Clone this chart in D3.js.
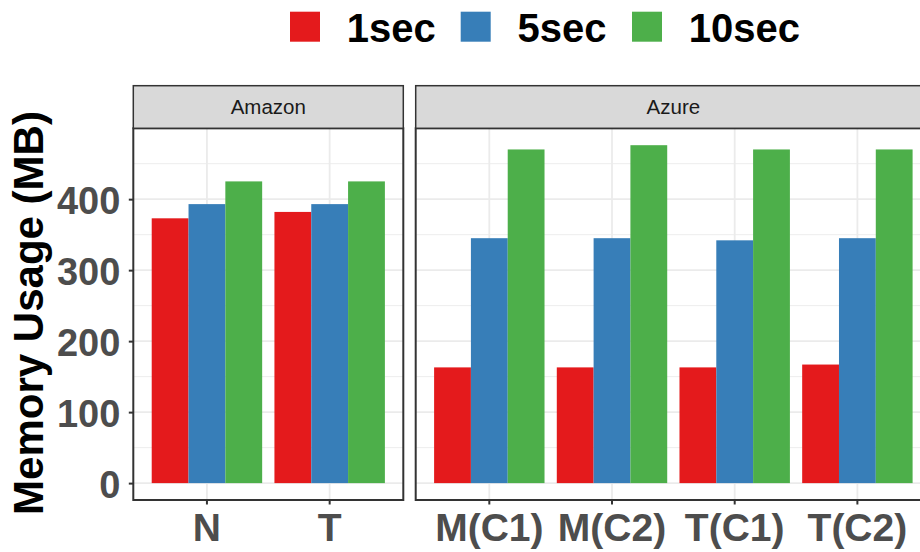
<!DOCTYPE html>
<html>
<head>
<meta charset="utf-8">
<script src="https://cdn.jsdelivr.net/npm/d3@7"></script>
<style>
  body { margin: 0; background: #fff; }
  svg { display: block; font-family: "Liberation Sans", Arial, sans-serif; }
</style>
</head>
<body>
<div id="chart"></div>
<script>
// data
const series = ["1sec", "5sec", "10sec"];
const colors = ["#E41A1C", "#377EB8", "#4DAF4A"];

const amazonCats = ["N", "T"];
const amazon1 = [373, 382];
const amazon5 = [393, 393];
const amazon10 = [425, 425];

const azureCats = ["M(C1)", "M(C2)", "T(C1)", "T(C2)"];
const azure1 = [163, 163, 163, 167];
const azure5 = [345, 345, 342, 345];
const azure10 = [470, 476, 470, 470];

const yTicks = [0, 100, 200, 300, 400];
const yMinor = [50, 150, 250, 350, 450];

const width = 920, height = 552;
const panelTop = 128.3, panelBottom = 500, stripTop = 85.7;

const svg = d3.select("#chart").append("svg")
    .attr("width", width)
    .attr("height", height);

const panels = [
  {name: "Amazon", cats: amazonCats, vals: [amazon1, amazon5, amazon10], left: 133.3, right: 403.3},
  {name: "Azure", cats: azureCats, vals: [azure1, azure5, azure10], left: 415.7, right: 931}
];

const yMax = d3.max([...amazon1, ...amazon5, ...amazon10, ...azure1, ...azure5, ...azure10]);
const y = d3.scaleLinear()
    .domain([-yMax * 0.05, yMax * 1.05])
    .range([panelBottom, panelTop]);

// offsets of the three bars inside one category (in category units)
const sub = d3.scaleBand().domain(series).range([-0.45, 0.45]).padding(0);

panels.forEach(p => {
  const n = p.cats.length;
  const x = d3.scaleLinear().domain([0.4, n + 0.6]).range([p.left, p.right]);
  const unit = x(1) - x(0);
  const g = svg.append("g");

  // panel background + grid
  g.append("rect").attr("x", p.left).attr("y", panelTop)
    .attr("width", p.right - p.left).attr("height", panelBottom - panelTop)
    .attr("fill", "#fff");

  g.selectAll(".minor").data(yMinor).join("line")
    .attr("x1", p.left).attr("x2", p.right)
    .attr("y1", d => y(d)).attr("y2", d => y(d))
    .attr("stroke", "#EBEBEB").attr("stroke-width", 0.9);

  g.selectAll(".major").data(yTicks).join("line")
    .attr("x1", p.left).attr("x2", p.right)
    .attr("y1", d => y(d)).attr("y2", d => y(d))
    .attr("stroke", "#EBEBEB").attr("stroke-width", 1.8);

  g.selectAll(".vgrid").data(p.cats).join("line")
    .attr("x1", (d, i) => x(i + 1)).attr("x2", (d, i) => x(i + 1))
    .attr("y1", panelTop).attr("y2", panelBottom)
    .attr("stroke", "#EBEBEB").attr("stroke-width", 1.8);

  // bars
  series.forEach((s, si) => {
    g.selectAll(".bar" + si).data(p.vals[si]).join("rect")
      .attr("x", (d, i) => x(i + 1) + sub(s) * unit)
      .attr("width", sub.bandwidth() * unit)
      .attr("y", d => y(d))
      .attr("height", d => y(0) - y(d))
      .attr("fill", colors[si]);
  });

  // panel border
  g.append("rect").attr("x", p.left).attr("y", panelTop)
    .attr("width", p.right - p.left).attr("height", panelBottom - panelTop)
    .attr("fill", "none").attr("stroke", "#333333").attr("stroke-width", 2);

  // strip
  g.append("rect").attr("x", p.left).attr("y", stripTop)
    .attr("width", p.right - p.left).attr("height", panelTop - stripTop)
    .attr("fill", "#D9D9D9").attr("stroke", "#333333").attr("stroke-width", 1.5);
  g.append("text")
    .attr("x", (p.left + p.right) / 2).attr("y", 114.3)
    .attr("text-anchor", "middle")
    .attr("font-size", "20.5px")
    .attr("fill", "#1A1A1A")
    .text(p.name);

  // x axis
  const xb = d3.scaleBand().domain(p.cats)
    .range([x(0.5), x(n + 0.5)]);
  const ax = svg.append("g")
    .attr("transform", "translate(0," + panelBottom + ")")
    .call(d3.axisBottom(xb).tickSize(4.5).tickSizeOuter(0));
  ax.select(".domain").remove();
  ax.selectAll(".tick line").attr("stroke", "#333333").attr("stroke-width", 2);
  ax.selectAll(".tick text")
    .attr("y", 40.7).attr("dy", 0)
    .attr("font-size", "39px")
    .attr("font-weight", "bold")
    .attr("font-family", "Liberation Sans, Arial, sans-serif")
    .attr("fill", "#4D4D4D");
});

// y axis
const ay = svg.append("g")
  .attr("transform", "translate(133.3,0)")
  .call(d3.axisLeft(y).tickValues(yTicks).tickSize(4.5).tickPadding(8.5));
ay.select(".domain").remove();
ay.selectAll(".tick line").attr("stroke", "#333333").attr("stroke-width", 2);
ay.selectAll(".tick text")
  .attr("dy", "0.37em")
  .attr("font-size", "38px")
  .attr("font-weight", "bold")
  .attr("font-family", "Liberation Sans, Arial, sans-serif")
  .attr("fill", "#4D4D4D");

// y title
svg.append("text")
  .attr("transform", "translate(43,313) rotate(-90)")
  .attr("text-anchor", "middle")
  .attr("font-size", "42px")
  .attr("font-weight", "bold")
  .attr("fill", "#000")
  .text("Memory Usage (MB)");

// legend
const legendX = [290, 460.7, 632];
const leg = svg.append("g");
series.forEach((s, i) => {
  leg.append("rect")
    .attr("x", legendX[i]).attr("y", 11.7)
    .attr("width", 30).attr("height", 30)
    .attr("fill", colors[i]);
  leg.append("text")
    .attr("x", legendX[i] + 56.7).attr("y", 42)
    .attr("font-size", "40px")
    .attr("font-weight", "bold")
    .attr("fill", "#000")
    .text(s);
});
</script>
</body>
</html>
